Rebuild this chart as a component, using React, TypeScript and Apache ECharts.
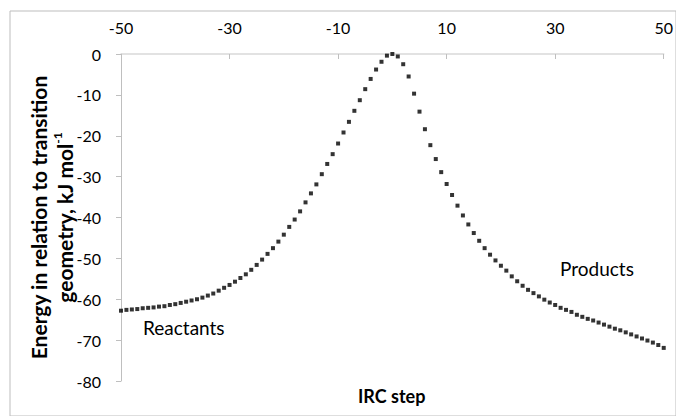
import React, { useEffect, useRef } from "react";
import * as echarts from "echarts";

// IRC step numbers along the reaction path
const ircSteps = [
  -50, -49, -48, -47, -46, -45, -44, -43, -42, -41,
  -40, -39, -38, -37, -36, -35, -34, -33, -32, -31,
  -30, -29, -28, -27, -26, -25, -24, -23, -22, -21,
  -20, -19, -18, -17, -16, -15, -14, -13, -12, -11,
  -10, -9, -8, -7, -6, -5, -4, -3, -2, -1,
  0,
  1, 2, 3, 4, 5, 6, 7, 8, 9, 10,
  11, 12, 13, 14, 15, 16, 17, 18, 19, 20,
  21, 22, 23, 24, 25, 26, 27, 28, 29, 30,
  31, 32, 33, 34, 35, 36, 37, 38, 39, 40,
  41, 42, 43, 44, 45, 46, 47, 48, 49, 50,
];

// Energy relative to the transition geometry, kJ/mol
const energies = [
  -62.8, -62.6, -62.5, -62.4, -62.2, -62.1, -62.0, -61.8, -61.7, -61.4,
  -61.2, -60.9, -60.6, -60.3, -60.0, -59.6, -59.1, -58.6, -57.9, -57.2,
  -56.5, -55.7, -54.8, -53.9, -52.8, -51.6, -50.3, -48.9, -47.5, -45.9,
  -44.2, -42.3, -40.5, -38.5, -36.3, -34.1, -31.9, -29.4, -26.9, -24.5,
  -21.9, -19.2, -16.6, -13.9, -11.3, -8.6, -6.1, -3.8, -1.9, -0.4,
  0,
  -0.6, -2.5, -5.5, -9.7, -14.1, -18.4, -22.3, -25.7, -28.9, -31.8,
  -34.5, -37.1, -39.5, -41.7, -43.8, -45.7, -47.5, -49.1, -50.5, -51.8,
  -53.0, -54.4, -55.6, -56.7, -57.7, -58.5, -59.3, -60.1, -60.8, -61.4,
  -62.1, -62.6, -63.1, -63.8, -64.3, -64.8, -65.2, -65.7, -66.2, -66.7,
  -67.2, -67.6, -68.1, -68.6, -69.1, -69.6, -70.1, -70.6, -71.2, -71.9,
];

const stepRange = [-50, 50];
const stepInterval = 20;
const energyRange = [-80, 0];
const energyInterval = 10;

const FONT = "Lato";
const FRAME = "#bdbdbd";

export default function App() {
  const ref = useRef<HTMLDivElement>(null);

  useEffect(() => {
    if (!ref.current) return;
    const chart = echarts.init(ref.current, undefined, { renderer: "svg" });
    const points = ircSteps.map((s, i) => [s, energies[i]]);

    chart.setOption({
      animation: false,
      backgroundColor: "#ffffff",
      textStyle: { fontFamily: FONT },
      grid: [
        // plot area
        { left: 121, right: 12, top: 54, bottom: 35 },
        // chart-area border (its right and bottom edges fall outside the page)
        {
          left: 10,
          top: 11,
          right: -40,
          bottom: -40,
          show: true,
          backgroundColor: "transparent",
          borderColor: FRAME,
          borderWidth: 1,
          z: 0,
        },
      ],
      xAxis: {
        type: "value",
        gridIndex: 0,
        position: "top",
        min: stepRange[0],
        max: stepRange[1],
        interval: stepInterval,
        axisLine: { show: true, onZero: false, lineStyle: { color: "#d9d9d9", width: 1.5 } },
        axisTick: { show: true, inside: true, length: 5, lineStyle: { color: "#bfbfbf" } },
        axisLabel: { margin: 19, fontSize: 16, color: "#000", fontFamily: FONT },
        splitLine: { show: false },
      },
      yAxis: {
        type: "value",
        gridIndex: 0,
        min: energyRange[0],
        max: energyRange[1],
        interval: energyInterval,
        axisLine: { show: true, onZero: false, lineStyle: { color: "#bfbfbf", width: 1 } },
        axisTick: { show: true, length: 5, lineStyle: { color: "#bfbfbf" } },
        axisLabel: { margin: 20, fontSize: 16, color: "#000", fontFamily: FONT },
        splitLine: { show: false },
        name: "Energy in relation to transition\ngeometry, kJ mol{sup|-1}",
        nameLocation: "middle",
        nameRotate: 90,
        nameGap: 44,
        nameMoveOverlap: false,
        nameTextStyle: {
          fontFamily: FONT,
          fontSize: 21,
          fontWeight: "bold",
          color: "#000",
          lineHeight: 26,
          rich: {
            sup: {
              fontFamily: FONT,
              fontSize: 12,
              fontWeight: "bold",
              color: "#000",
              verticalAlign: "top",
              lineHeight: 18,
            },
          },
        },
      },
      series: [
        {
          type: "scatter",
          data: points,
          symbol: "rect",
          symbolSize: 4,
          itemStyle: { color: "#000" },
          silent: true,
        },
      ],
      graphic: {
        elements: [
          {
            type: "text",
            left: 143,
            top: 318,
            silent: true,
            style: { text: "Reactants", fontFamily: FONT, fontSize: 19, fill: "#000" },
          },
          {
            type: "text",
            left: 560,
            top: 259,
            silent: true,
            style: { text: "Products", fontFamily: FONT, fontSize: 19, fill: "#000" },
          },
          {
            type: "text",
            left: 358,
            top: 387,
            silent: true,
            style: { text: "IRC step", fontFamily: FONT, fontSize: 18, fontWeight: "bold", fill: "#000" },
          },
        ],
      },
    });

    return () => chart.dispose();
  }, []);

  return (
    <div
      ref={ref}
      style={{ position: "fixed", left: 0, top: 0, width: 676, height: 416, background: "#fff" }}
    />
  );
}
